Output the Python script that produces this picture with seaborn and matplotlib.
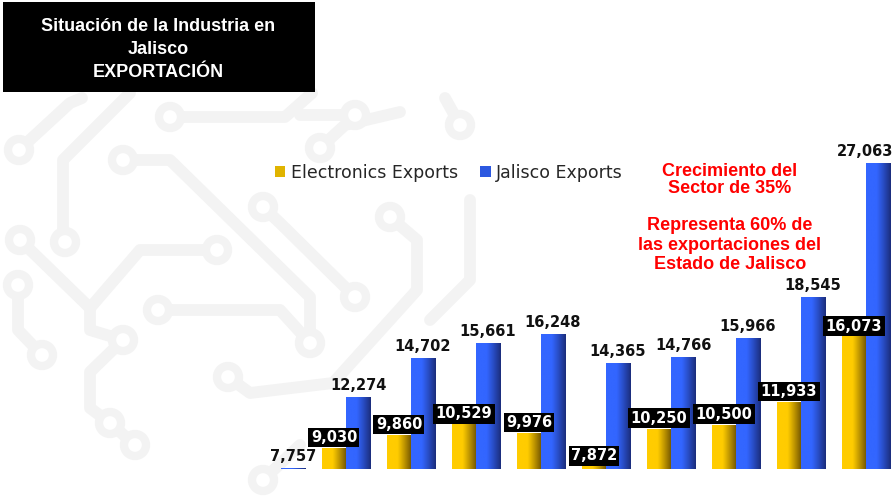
import numpy as np
import pandas as pd
import matplotlib
matplotlib.use("Agg")
import matplotlib.pyplot as plt
from matplotlib.patches import Circle, Rectangle
import seaborn as sns

# ---- data -------------------------------------------------------------
periods = ["1", "2", "3", "4", "5", "6", "7", "8", "9", "10"]
electronics_exports = [np.nan, 9030, 9860, 10529, 9976, 7872, 10250, 10500, 11933, 16073]
jalisco_exports = [7757, 12274, 14702, 15661, 16248, 14365, 14766, 15966, 18545, 27063]
series_names = ["Electronics Exports", "Jalisco Exports"]

title_lines = "Situación de la Industria en\nJalisco\nEXPORTACIÓN"
note_growth = "Crecimiento del\nSector de 35%"
note_share = "Representa 60% de\nlas exportaciones del\nEstado de Jalisco"

df = pd.DataFrame({
    "period": periods * 2,
    "series": [series_names[0]] * len(periods) + [series_names[1]] * len(periods),
    "value": electronics_exports + jalisco_exports,
})

# ---- figure -----------------------------------------------------------
sns.set_theme(style="white")
plt.rcParams["font.family"] = ["DejaVu Sans"]

W, H = 896, 496
fig = plt.figure(figsize=(W / 100, H / 100), dpi=100)
fig.patch.set_facecolor("white")

# decorative circuit-board backdrop, in pixel coordinates
bg = fig.add_axes([0, 0, 1, 1], zorder=0)
bg.set_xlim(0, W)
bg.set_ylim(H, 0)
bg.axis("off")
trace_color = "#f3f3f3"
traces = [
    [(19, 150), (70, 103), (82, 98)],
    [(63, 242), (63, 160), (130, 93)],
    [(123, 160), (170, 160), (310, 297), (310, 343)],
    [(170, 117), (285, 117), (312, 93)],
    [(20, 240), (90, 308), (140, 250), (217, 250)],
    [(90, 308), (90, 330), (123, 340)],
    [(123, 340), (90, 372), (90, 408), (110, 423), (135, 445)],
    [(158, 310), (280, 310), (310, 343)],
    [(263, 207), (280, 223), (355, 297)],
    [(390, 217), (417, 240), (417, 290), (333, 383), (250, 393), (228, 377)],
    [(18, 285), (18, 330), (42, 355)],
    [(263, 480), (300, 445)],
    [(320, 148), (345, 125), (400, 112)],
    [(355, 115), (300, 115)],
    [(460, 125), (445, 98)],
    [(430, 320), (470, 280), (470, 200)],
]
pads = [(19, 150), (65, 242), (123, 160), (310, 343), (170, 117), (20, 240),
        (217, 250), (123, 340), (135, 445), (158, 310), (263, 207), (355, 297),
        (390, 217), (228, 377), (18, 285), (42, 355), (263, 480), (320, 148),
        (355, 115), (460, 125), (110, 423)]
for pts in traces:
    xs, ys = zip(*pts)
    bg.plot(xs, ys, color=trace_color, lw=8.5, solid_capstyle="round",
            solid_joinstyle="round", zorder=1)
for (cx, cy) in pads:
    bg.add_patch(Circle((cx, cy), 11, facecolor="white", edgecolor=trace_color,
                        lw=6, zorder=2))

# title block
bg.add_patch(Rectangle((3, 2), 312, 90, facecolor="black", edgecolor="none", zorder=5))
bg.text(158, 49.5, title_lines, ha="center", va="center", color="white",
        fontsize=13, fontweight="bold", family="Liberation Sans", linespacing=1.45,
        zorder=6)

# annotation notes
bg.text(730, 180, note_growth, ha="center", va="center", color="#ff0000",
        fontsize=13, fontweight="bold", family="Liberation Sans", linespacing=1.0,
        zorder=6)
bg.text(730, 245, note_share, ha="center", va="center", color="#ff0000",
        fontsize=13, fontweight="bold", family="Liberation Sans", linespacing=1.22,
        zorder=6)

# ---- bar chart --------------------------------------------------------
ax = fig.add_axes([248.5 / W, (H - 469) / H, (W - 248.5) / W, 319 / H], zorder=1)
ax.set_facecolor("none")

base_colors = {"Electronics Exports": "#ffcc00", "Jalisco Exports": "#3366ff"}
sns.barplot(data=df, x="period", y="value", hue="series", hue_order=series_names,
            order=periods, palette=base_colors, width=0.74, errorbar=None,
            saturation=1, ax=ax, legend=False)

y_low = 7723
y_high = y_low + 319 / 0.01582
x_lim = (-0.5, -0.5 + (W - 248.5) / 65)
ax.set_xlim(*x_lim)
ax.set_ylim(y_low, y_high)
for s in ax.spines.values():
    s.set_visible(False)
ax.set_xticks([])
ax.set_yticks([])
ax.set_xlabel("")
ax.set_ylabel("")


def gradient(bright, dark, n=64):
    t = np.linspace(0, 1, n)
    k = np.clip((t - 0.42) / 0.58, 0, 1) ** 1.1
    b = np.array(matplotlib.colors.to_rgb(bright))
    d = np.array(matplotlib.colors.to_rgb(dark))
    return (b[None, :] * (1 - k[:, None]) + d[None, :] * k[:, None])[None, :, :]


grads = [gradient("#ffcc00", "#6e5200"), gradient("#3366ff", "#1b2d7c")]

elec_c, jal_c = ax.containers[0], ax.containers[1]

# value labels: plain text over Jalisco bars, boxed white text over electronics bars
jal_labels = ax.bar_label(jal_c, labels=[f"{v:,.0f}" for v in jal_c.datavalues],
                          padding=3.2, fontsize=10.5, fontweight="bold",
                          color="#111111", zorder=5)
elec_labels = ax.bar_label(
    elec_c, labels=[f"{v:,.0f}" if np.isfinite(v) else "" for v in elec_c.datavalues],
    padding=2.4, fontsize=10.5, fontweight="bold", color="white", zorder=6,
    bbox=dict(boxstyle="square,pad=0.16", facecolor="black", edgecolor="none"))

for cont, g in zip([elec_c, jal_c], grads):
    for bar in cont:
        h = bar.get_height()
        if not np.isfinite(h):
            continue
        x0 = bar.get_x()
        w = bar.get_width()
        bar.set_facecolor("none")
        ax.imshow(g, extent=[x0, x0 + w, 0, h], aspect="auto",
                  interpolation="bilinear", zorder=2)

ax.set_xlim(*x_lim)
ax.set_ylim(y_low, y_high)

# legend
handles = [Rectangle((0, 0), 1, 1, facecolor="#e0b400", edgecolor="none"),
           Rectangle((0, 0), 1, 1, facecolor="#2c58e0", edgecolor="none")]
fig.legend(handles, series_names, loc="center left",
           bbox_to_anchor=(275 / W, (H - 173) / H),
           ncol=2, frameon=False, fontsize=12.5, handlelength=0.6, handleheight=0.6,
           handletextpad=0.3, columnspacing=1.3, borderpad=0, borderaxespad=0)

# keep value labels inside the canvas
fig.canvas.draw()
renderer = fig.canvas.get_renderer()
for lab in list(jal_labels) + list(elec_labels):
    bb = lab.get_window_extent(renderer)
    overflow = bb.x1 - (W - 3)
    if overflow > 0:
        dx, dy = lab.xyann
        lab.xyann = (dx - overflow * 72 / 100, dy)

fig.savefig("out.png", dpi=100)
